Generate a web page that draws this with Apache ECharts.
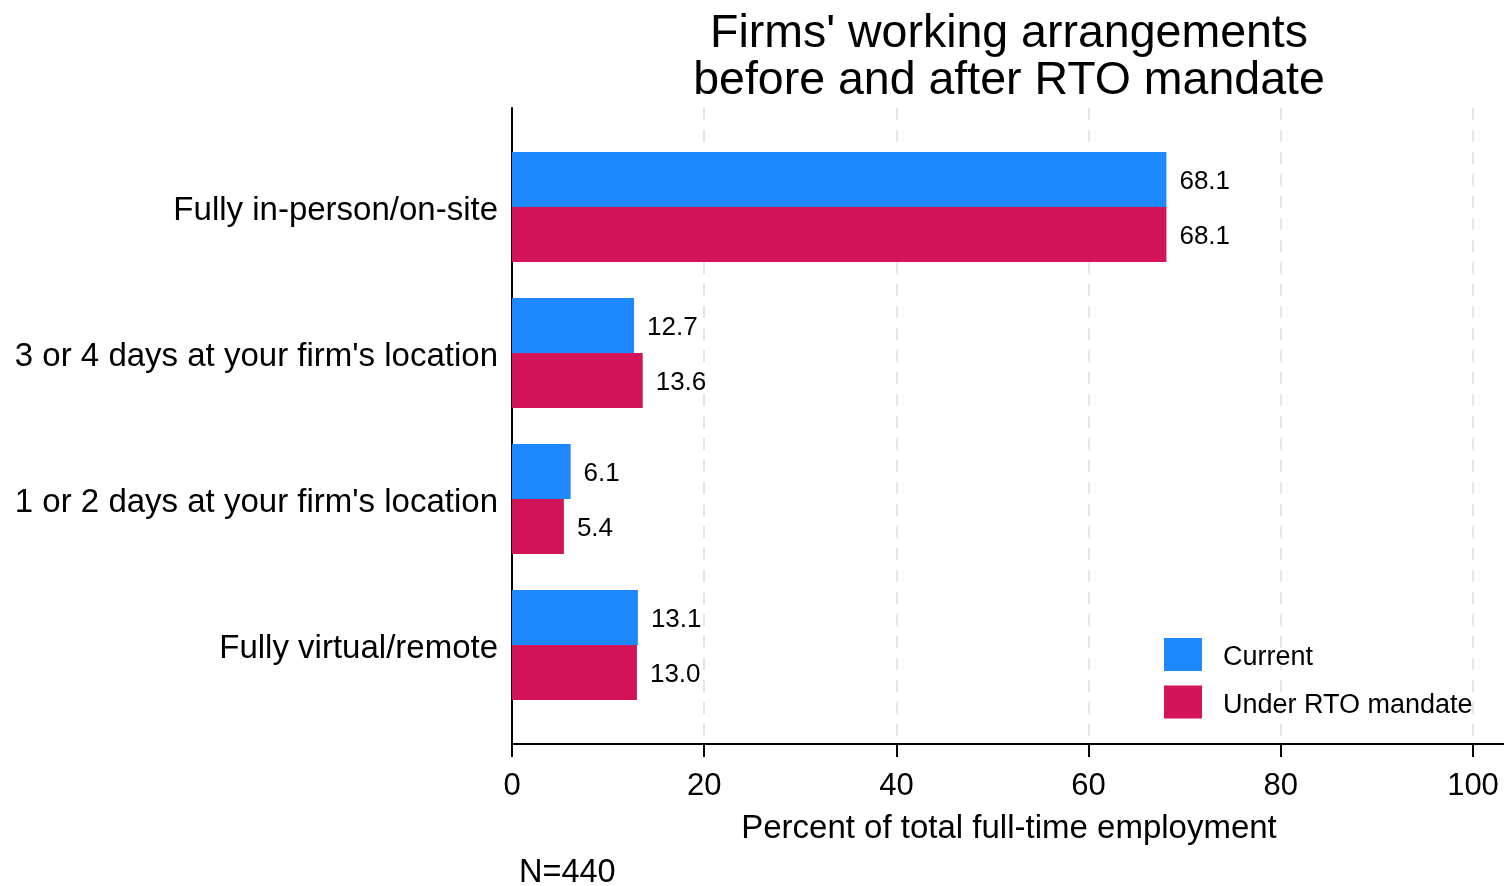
<!DOCTYPE html>
<html>
<head>
<meta charset="utf-8">
<script src="https://cdn.jsdelivr.net/npm/echarts@6/dist/echarts.min.js"></script>
<style>html,body{margin:0;padding:0;background:#fff}#c{width:1504px;height:886px}</style>
</head>
<body>
<div id="c"></div>
<script>
const categories = ["Fully in-person/on-site", "3 or 4 days at your firm's location", "1 or 2 days at your firm's location", "Fully virtual/remote"];
const currentValues = [68.1, 12.7, 6.1, 13.1];
const rtoValues = [68.1, 13.6, 5.4, 13.0];
const xTicks = [0, 20, 40, 60, 80, 100];
const seriesNames = ["Current", "Under RTO mandate"];

const FONT = "Liberation Sans, Arial, sans-serif";
const chart = echarts.init(document.getElementById('c'));
const L = 512, R100 = 1473, W = 1504;
const extMax = 100 * (W - L) / (R100 - L);

chart.setOption({
  animation: false,
  backgroundColor: '#fff',
  textStyle: { fontFamily: FONT },
  graphic: [
    { type: 'text', style: { text: "Firms' working arrangements\nbefore and after RTO mandate", x: 1009, y: 11, align: 'center', verticalAlign: 'top', font: '46.5px ' + FONT, fill: '#000', lineHeight: 47 }, z: 10 },
    { type: 'text', style: { text: 'Percent of total full-time employment', x: 1009, y: 829, align: 'center', verticalAlign: 'middle', font: '33px ' + FONT, fill: '#000' } },
    { type: 'text', style: { text: 'N=440', x: 519, y: 873, align: 'left', verticalAlign: 'middle', font: '32.5px ' + FONT, fill: '#000' } }
  ],
  legend: {
    data: seriesNames,
    orient: 'vertical',
    left: 1164, top: 638, padding: 0,
    itemWidth: 38, itemHeight: 33, itemGap: 14,
    icon: 'rect',
    formatter: n => '{t|' + n + '}',
    textStyle: { fontSize: 27, color: '#000', fontFamily: FONT,
      rich: { t: { fontSize: 27, color: '#000', fontFamily: FONT, padding: [7, 0, 0, 16] } } }
  },
  grid: [
    { left: L, right: 0, top: 108, bottom: 142 },
    { left: L, right: W - R100, top: 108, bottom: 142 },
    { left: L, right: W - R100, top: 134, height: 584 }
  ],
  xAxis: [
    { gridIndex: 0, type: 'value', min: 0, max: extMax, axisLine: { show: true, lineStyle: { color: '#000', width: 2 } }, axisTick: { show: false }, axisLabel: { show: false }, splitLine: { show: false } },
    { gridIndex: 1, type: 'value', min: xTicks[0], max: xTicks[xTicks.length - 1], interval: 20,
      axisLine: { show: false },
      axisTick: { show: true, length: 13, lineStyle: { color: '#000', width: 2 } },
      axisLabel: { fontSize: 31, color: '#000', margin: 27, fontFamily: FONT },
      splitLine: { show: true, lineStyle: { color: '#e6e6e6', width: 2, type: [12, 10] } } },
    { gridIndex: 2, type: 'value', min: 0, max: 100, show: false }
  ],
  yAxis: [
    { gridIndex: 0, type: 'category', data: categories, axisLine: { show: true, lineStyle: { color: '#000', width: 2 } }, axisTick: { show: false }, axisLabel: { show: false } },
    { gridIndex: 1, type: 'category', data: categories, show: false },
    { gridIndex: 2, type: 'category', data: categories, inverse: true,
      axisLine: { show: false }, axisTick: { show: false },
      axisLabel: { fontSize: 33, color: '#000', margin: 14, fontFamily: FONT,
        formatter: v => '{c|' + v + '}',
        rich: { c: { fontSize: 33, color: '#000', fontFamily: FONT, padding: [8, 0, 0, 0] } } } }
  ],
  series: [
    { name: seriesNames[0], type: 'bar', xAxisIndex: 2, yAxisIndex: 2, data: currentValues, barWidth: 55, barGap: '0%',
      itemStyle: { color: '#1E88FF' },
      label: { show: true, position: 'right', distance: 13, offset: [0, 2], fontSize: 26, color: '#000', formatter: p => p.value.toFixed(1) } },
    { name: seriesNames[1], type: 'bar', xAxisIndex: 2, yAxisIndex: 2, data: rtoValues, barWidth: 55, barGap: '0%',
      itemStyle: { color: '#D41459' },
      label: { show: true, position: 'right', distance: 13, offset: [0, 2], fontSize: 26, color: '#000', formatter: p => p.value.toFixed(1) } }
  ]
});
</script>
</body>
</html>
